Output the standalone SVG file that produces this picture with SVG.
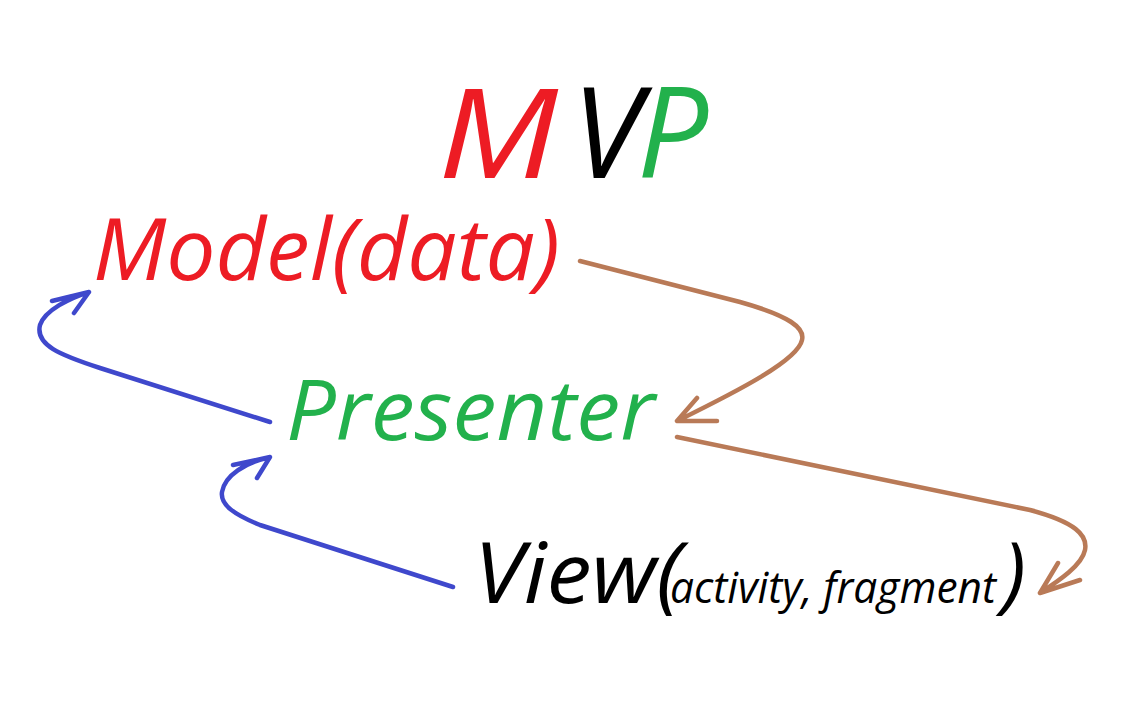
<svg xmlns="http://www.w3.org/2000/svg" width="1130" height="714" viewBox="0 0 1130 714">
<style>
text{font-family:"Open Sans","Noto Sans","Liberation Sans",sans-serif;font-style:italic;}
.red{fill:#ED1C24}.green{fill:#22B14C}.black{fill:#000}
.blue{fill:none;stroke:#3F48CC;stroke-width:4.5;stroke-linecap:round;stroke-linejoin:round}
.brown{fill:none;stroke:#B97A57;stroke-width:4.5;stroke-linecap:round;stroke-linejoin:round}
</style>
<rect width="1130" height="714" fill="#fff"/>
<g id="title">
<text x="438" y="178" font-size="124" class="red" textLength="120" lengthAdjust="spacingAndGlyphs">M</text>
<text x="572" y="178" font-size="126" class="black">V</text>
<text x="637" y="178" font-size="126" class="green">P</text>
</g>
<g id="model">
<text x="93" y="280" font-size="86" class="red" textLength="467" lengthAdjust="spacingAndGlyphs">Model(data)</text>
</g>
<g id="presenter">
<text x="286" y="440" font-size="84" class="green" textLength="369" lengthAdjust="spacingAndGlyphs">Presenter</text>
</g>
<g id="view">
<text x="474" y="603" font-size="84" class="black" textLength="208" lengthAdjust="spacingAndGlyphs">View(</text>
<text x="670" y="603" font-size="44" class="black" textLength="326" lengthAdjust="spacingAndGlyphs">activity, fragment</text>
<text x="1002" y="603" font-size="84" class="black">)</text>
</g>
<g id="connectors">
<path class="brown" d="M580,261 L740,302 C790,316 805,328 802,340 C798,360 740,390 677,421 M697,398 L677,421 L717,421"/>
<path class="brown" d="M677,437 L1030,510 C1075,522 1088,535 1085,550 C1082,565 1060,580 1040,593 M1058,563 L1040,593 L1080,580"/>
<path class="blue" d="M270,422 L100,368 C60,355 35,345 40,325 C45,310 70,298 89,292 M52,301 L89,292 L74,313"/>
<path class="blue" d="M453,587 L260,525 C235,515 220,505 222,492 C225,475 245,463 270,457 M233,465 L270,457 L257,478"/>
</g>
</svg>
